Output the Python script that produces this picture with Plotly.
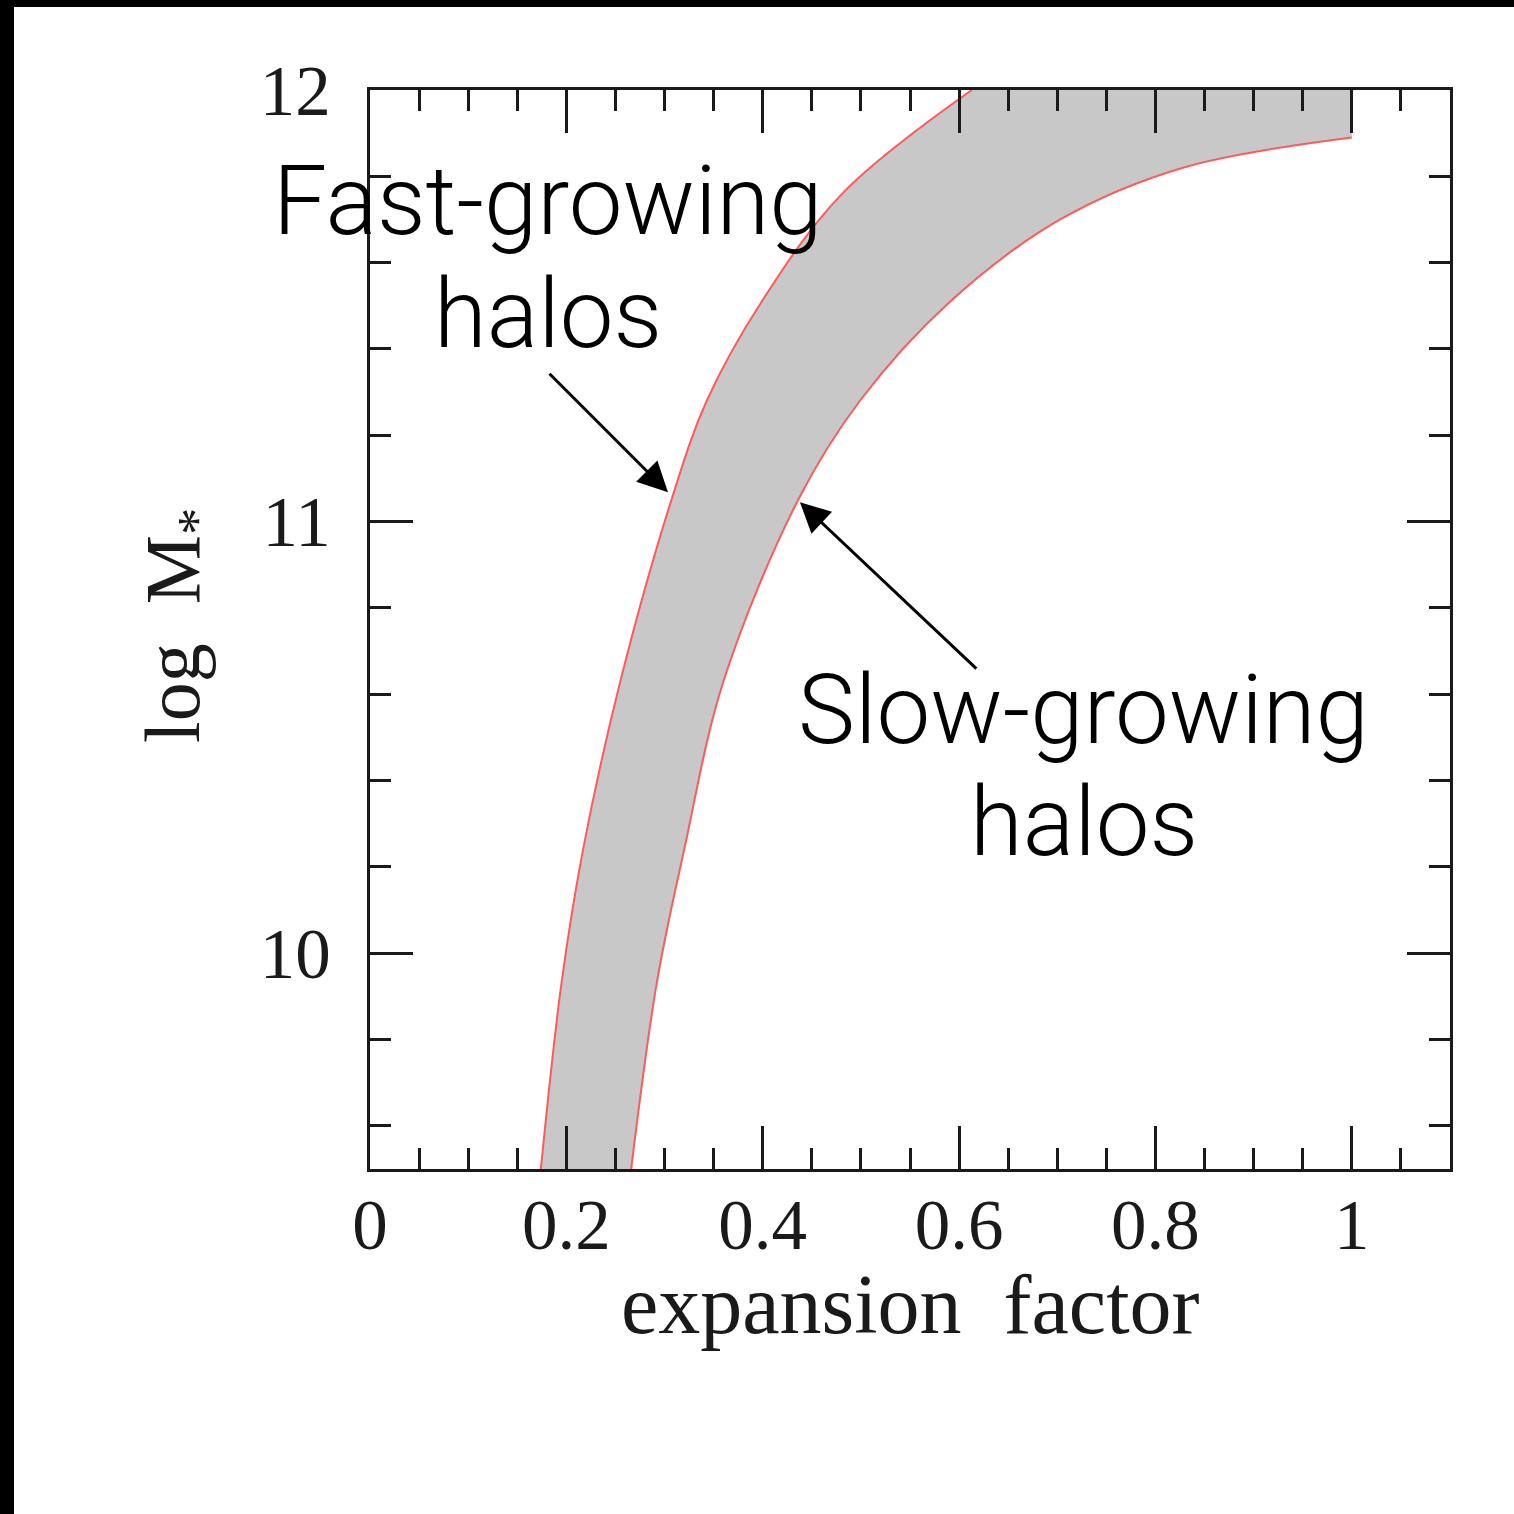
import plotly.graph_objects as go

# Boundary curves of the stellar-mass growth band (expansion factor a, log M*)
fast_a = [0.174, 0.195, 0.217, 0.255, 0.307, 0.343, 0.399, 0.481, 0.613]
fast_logm = [9.50, 9.93, 10.24, 10.63, 11.05, 11.28, 11.51, 11.76, 12.00]

slow_a = [0.266, 0.292, 0.320, 0.360, 0.436, 0.499, 0.591, 0.703, 0.828, 1.000]
slow_logm = [9.50, 9.93, 10.24, 10.63, 11.05, 11.28, 11.51, 11.70, 11.82, 11.89]

# Region where the band meets the top of the panel and closes at a = 1
corner_a = [fast_a[-2], fast_a[-1], 1.0, slow_a[-1]]
corner_logm = [fast_logm[-2], fast_logm[-1], 12.0, slow_logm[-1]]

x_tick_vals = [0, 0.2, 0.4, 0.6, 0.8, 1.0]
x_tick_text = ["0", "0.2", "0.4", "0.6", "0.8", "1"]
y_tick_vals = [10, 11, 12]
y_tick_text = ["10", "11", "12"]

FILL = "#c8c8c8"
EDGE = "#ff5a5a"
INK = "#1a1a1a"
SERIF = "Liberation Serif, Times New Roman, serif"
SANS = "Roboto, Helvetica Neue, Arial, sans-serif"
SMOOTH = 1.0

fig = go.Figure()

# gray band: slow edge, then fast edge filled back to it, plus the top corner
fig.add_trace(go.Scatter(
    x=slow_a, y=slow_logm, mode="lines",
    line=dict(width=0, color=FILL, shape="spline", smoothing=SMOOTH),
    hoverinfo="skip", showlegend=False,
))
fig.add_trace(go.Scatter(
    x=fast_a, y=fast_logm, mode="lines", fill="tonexty", fillcolor=FILL,
    line=dict(width=0, color=FILL, shape="spline", smoothing=SMOOTH),
    hoverinfo="skip", showlegend=False,
))
fig.add_trace(go.Scatter(
    x=corner_a, y=corner_logm, mode="lines", fill="toself", fillcolor=FILL,
    line=dict(width=0, color=FILL),
    hoverinfo="skip", showlegend=False,
))
# red edges of the band
for xs, ys in ((fast_a, fast_logm), (slow_a, slow_logm)):
    fig.add_trace(go.Scatter(
        x=xs, y=ys, mode="lines",
        line=dict(width=2, color=EDGE, shape="spline", smoothing=SMOOTH),
        hoverinfo="skip", showlegend=False,
    ))

axis_common = dict(
    showgrid=False, zeroline=False, showline=True, linecolor=INK, linewidth=3,
    ticks="inside", ticklen=43, tickwidth=3, tickcolor=INK, mirror="allticks",
    tickfont=dict(family=SERIF, size=71, color=INK),
)
fig.update_xaxes(
    range=[0, 1.1], tickvals=x_tick_vals, ticktext=x_tick_text,
    minor=dict(dtick=0.05, tick0=0, ticks="inside", ticklen=21, tickwidth=3, tickcolor=INK),
    ticklabelstandoff=-8, **axis_common,
)
fig.update_yaxes(
    range=[9.5, 12], tickvals=y_tick_vals, ticktext=y_tick_text,
    minor=dict(dtick=0.2, tick0=0, ticks="inside", ticklen=21, tickwidth=3, tickcolor=INK),
    ticklabelstandoff=22, **axis_common,
)

annotations = [
    # axis titles
    dict(text="expansion  factor", xref="paper", yref="paper", x=0.5, y=-0.126,
         showarrow=False, xanchor="center", yanchor="middle",
         font=dict(family=SERIF, size=84, color=INK)),
    dict(text="log  M<sub>*</sub>", xref="paper", yref="paper", x=-0.178, y=0.504,
         showarrow=False, xanchor="center", yanchor="middle", textangle=-90,
         font=dict(family=SERIF, size=78, color=INK)),
    # arrows
    dict(x=0.3035, y=11.068, ax=0.1813, ay=11.346, xref="x", yref="y", axref="x", ayref="y",
         text="", showarrow=True, arrowhead=2, arrowsize=2, arrowwidth=3, arrowcolor="#000"),
    dict(x=0.4379, y=11.045, ax=0.6191, ay=10.656, xref="x", yref="y", axref="x", ayref="y",
         text="", showarrow=True, arrowhead=2, arrowsize=2, arrowwidth=3, arrowcolor="#000"),
]
labels = [
    ("Fast-growing", 0.181, 11.742),
    ("halos", 0.181, 11.48),
    ("Slow-growing", 0.727, 10.563),
    ("halos", 0.727, 10.303),
]
for txt, lx, ly in labels:
    annotations.append(dict(
        text=txt, x=lx, y=ly, xref="x", yref="y", showarrow=False,
        xanchor="center", yanchor="middle",
        font=dict(family=SANS, size=96, color="#000", weight=300),
    ))

shapes = [
    # dark strips along the top and left edges of the page
    dict(type="rect", xref="paper", yref="paper", x0=-370 / 1080, x1=(14 - 370) / 1080,
         y0=-345 / 1079, y1=1 + 90 / 1079, fillcolor="#000", line=dict(width=0), layer="above"),
    dict(type="rect", xref="paper", yref="paper", x0=-370 / 1080, x1=1 + 64 / 1080,
         y0=1 + 83 / 1079, y1=1 + 90 / 1079, fillcolor="#000", line=dict(width=0), layer="above"),
]

fig.update_layout(
    width=1514, height=1514,
    margin=dict(l=370, r=64, t=90, b=345, pad=0),
    paper_bgcolor="white", plot_bgcolor="white",
    annotations=annotations, shapes=shapes,
    showlegend=False,
)

fig.write_html("out.html")
